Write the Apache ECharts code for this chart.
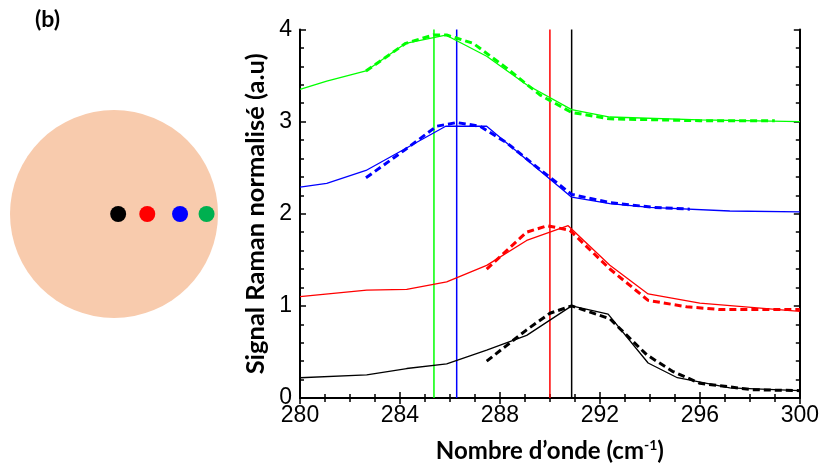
<!DOCTYPE html>
<html>
<head>
<meta charset="utf-8">
<script src="https://cdn.jsdelivr.net/npm/echarts@6/dist/echarts.min.js"></script>
<style>html,body{margin:0;padding:0;background:#fff}#c{width:822px;height:468px}</style>
</head>
<body>
<div id="c"></div>
<script>
// ---- data ----
const xTicks = [280, 284, 288, 292, 296, 300];
const yTicks = [0, 1, 2, 3, 4];
const peakLines = [285.36, 286.27, 290.0, 290.87];
const peakColors = ['#00ff00', '#0000ff', '#ff0000', '#000000'];

const blackSolidX = [280, 282.67, 284.27, 285.87, 287.47, 289.07, 290.87, 292.33, 293.93, 295.1, 297.2, 300];
const blackSolidY = [0.22, 0.25, 0.32, 0.37, 0.52, 0.68, 1.0, 0.91, 0.38, 0.22, 0.11, 0.08];
const blackDashX = [287.47, 289.07, 290.0, 290.87, 292.4, 293.87, 294.9, 296, 298.1, 300];
const blackDashY = [0.40, 0.74, 0.92, 1.0, 0.86, 0.47, 0.29, 0.16, 0.09, 0.08];

const redSolidX = [280, 282.67, 284.27, 285.87, 287.47, 289.07, 290.73, 292.4, 293.93, 296, 300];
const redSolidY = [1.10, 1.17, 1.18, 1.26, 1.44, 1.71, 1.87, 1.44, 1.13, 1.03, 0.94];
const redDashX = [287.47, 289.07, 289.9, 290.8, 292.4, 293.93, 295.47, 296.8, 300];
const redDashY = [1.40, 1.80, 1.87, 1.82, 1.40, 1.06, 0.99, 0.96, 0.96];

const blueSolidX = [280, 281.07, 282.64, 285.83, 287.47, 290.87, 292.4, 294.0, 297.2, 300];
const blueSolidY = [2.29, 2.33, 2.47, 2.95, 2.95, 2.18, 2.11, 2.07, 2.03, 2.02];
const blueDashX = [282.64, 284.23, 285.47, 286.27, 287.2, 288.27, 289.6, 290.87, 292.4, 294.13, 295.6];
const blueDashY = [2.39, 2.70, 2.95, 2.99, 2.95, 2.77, 2.48, 2.21, 2.12, 2.07, 2.05];

const greenSolidX = [280, 281.07, 282.64, 284.23, 285.83, 287.47, 289.07, 290.87, 292.4, 296, 300];
const greenSolidY = [3.35, 3.44, 3.55, 3.85, 3.94, 3.71, 3.40, 3.13, 3.05, 3.02, 3.00];
const greenDashX = [282.64, 284.23, 285.33, 285.87, 286.93, 288.27, 289.6, 290.87, 292.4, 296, 299];
const greenDashY = [3.55, 3.85, 3.94, 3.94, 3.85, 3.58, 3.29, 3.10, 3.03, 3.01, 3.01];

// sample positions (left panel): relative positions along radius
const dotPos = [0.04, 0.32, 0.635, 0.89];
const dotColors = ['#000000', '#ff0000', '#0000ff', '#00b050'];

// ---- build ----
const zip = (xs, ys) => xs.map((x, i) => [x, ys[i]]);
function curve(xs, ys, color, dashed) {
  return {
    type: 'line', xAxisIndex: 0, yAxisIndex: 0, data: zip(xs, ys), symbol: 'none',
    silent: true, z: dashed ? 4 : 3,
    lineStyle: dashed ? {color, width: 3, type: [7, 4]} : {color, width: 1.3}
  };
}
const series = [];
peakLines.forEach((p, i) => series.push({
  type: 'line', xAxisIndex: 0, yAxisIndex: 0, data: [[p, 0], [p, 4]], symbol: 'none', silent: true, z: 2,
  lineStyle: {color: peakColors[i], width: 1.5}
}));
series.push(curve(blackSolidX, blackSolidY, '#000000', false));
series.push(curve(blackDashX, blackDashY, '#000000', true));
series.push(curve(redSolidX, redSolidY, '#ff0000', false));
series.push(curve(redDashX, redDashY, '#ff0000', true));
series.push(curve(blueSolidX, blueSolidY, '#0000ff', false));
series.push(curve(blueDashX, blueDashY, '#0000ff', true));
series.push(curve(greenSolidX, greenSolidY, '#00ff00', false));
series.push(curve(greenDashX, greenDashY, '#00ff00', true));
// left panel
series.push({type: 'scatter', xAxisIndex: 2, yAxisIndex: 2, data: [[0, 0]], symbolSize: 208, silent: true,
  itemStyle: {color: '#f8cbad', opacity: 1}, z: 1});
dotPos.forEach((d, i) => series.push({type: 'scatter', xAxisIndex: 2, yAxisIndex: 2, data: [[d, 0]], symbolSize: 16,
  silent: true, itemStyle: {color: dotColors[i], opacity: 1}, z: 2}));

const tickFont = {fontFamily: 'Liberation Sans', fontSize: 23, color: '#000'};
const axisLine = {show: true, lineStyle: {color: '#000', width: 2}};
const chart = echarts.init(document.getElementById('c'), null, {renderer: 'canvas'});
chart.setOption({
  animation: false,
  backgroundColor: '#fff',
  grid: [
    {left: 300, right: 22, top: 29.5, bottom: 68, show: false},
    {left: 10, top: 110, width: 208, height: 208, show: false}
  ],
  title: {text: '(b)', left: 30, top: 3, textStyle: {fontFamily: 'Lato', fontWeight: 'bold', fontSize: 23, color: '#000'}},
  xAxis: [
    {type: 'value', gridIndex: 0, min: xTicks[0], max: xTicks[xTicks.length - 1], interval: 4, position: 'bottom',
      axisLine, axisTick: {inside: true, length: 6, lineStyle: {color: '#000', width: 1.5}},
      minorTick: {show: true, splitNumber: 4, length: 4, lineStyle: {color: '#000', width: 1.5}},
      splitLine: {show: false}, axisLabel: {...tickFont, margin: 6},
      name: '{t|Nombre d’onde (cm}{s|-1}{t|)}', nameLocation: 'middle', nameGap: 40,
      nameTextStyle: {rich: {
        t: {fontFamily: 'Lato', fontWeight: 'bold', fontSize: 24, color: '#000'},
        s: {fontFamily: 'Lato', fontWeight: 'bold', fontSize: 14, color: '#000', verticalAlign: 'top', padding: [0, 0, 12, 0]}
      }}},
    {type: 'value', gridIndex: 0, min: 280, max: 300, interval: 4, position: 'top',
      axisLine, axisTick: {inside: true, length: 6, lineStyle: {color: '#000', width: 1.5}},
      minorTick: {show: true, splitNumber: 4, length: 4, lineStyle: {color: '#000', width: 1.5}},
      splitLine: {show: false}, axisLabel: {show: false}},
    {type: 'value', gridIndex: 1, min: -1, max: 1, show: false}
  ],
  yAxis: [
    {type: 'value', gridIndex: 0, min: yTicks[0], max: yTicks[yTicks.length - 1], interval: 1, position: 'left',
      axisLine, axisTick: {inside: true, length: 6, lineStyle: {color: '#000', width: 1.5}},
      minorTick: {show: true, splitNumber: 5, length: 4, lineStyle: {color: '#000', width: 1.5}},
      splitLine: {show: false}, axisLabel: {...tickFont, margin: 8},
      name: 'Signal Raman normalisé (a.u)', nameLocation: 'middle', nameGap: 24,
      nameTextStyle: {fontFamily: 'Lato', fontWeight: 'bold', fontSize: 25.5, color: '#000'}},
    {type: 'value', gridIndex: 0, min: 0, max: 4, interval: 1, position: 'right',
      axisLine, axisTick: {inside: true, length: 6, lineStyle: {color: '#000', width: 1.5}},
      minorTick: {show: true, splitNumber: 5, length: 4, lineStyle: {color: '#000', width: 1.5}},
      splitLine: {show: false}, axisLabel: {show: false}},
    {type: 'value', gridIndex: 1, min: -1, max: 1, show: false}
  ],
  series
});
</script>
</body>
</html>
